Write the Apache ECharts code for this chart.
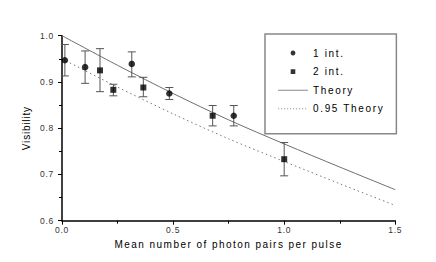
<!DOCTYPE html>
<html>
<head>
<meta charset="utf-8">
<script src="https://cdn.jsdelivr.net/npm/echarts@6/dist/echarts.min.js"></script>
<style>
html, body { margin: 0; padding: 0; background: #fff; }
#chart { width: 436px; height: 262px; }
</style>
</head>
<body>
<div id="chart"></div>
<script>
// ---- data ----
const int1X  = [0.013, 0.104, 0.314, 0.483, 0.773];
const int1Y  = [0.947, 0.932, 0.939, 0.875, 0.827];
const int1Lo = [0.913, 0.897, 0.911, 0.862, 0.805];
const int1Hi = [0.981, 0.967, 0.965, 0.888, 0.849];

const int2X  = [0.171, 0.231, 0.366, 0.678, 1.000];
const int2Y  = [0.925, 0.883, 0.888, 0.827, 0.733];
const int2Lo = [0.879, 0.870, 0.868, 0.805, 0.697];
const int2Hi = [0.972, 0.895, 0.910, 0.849, 0.769];

const theoryX   = [0, 0.25, 0.5, 0.75, 1.0, 1.25, 1.5];
const theoryY   = [1.000, 0.936, 0.875, 0.818, 0.766, 0.716, 0.667];
const theory95Y = [0.950, 0.889, 0.831, 0.777, 0.728, 0.680, 0.633];

const xTickValues = [0.0, 0.5, 1.0, 1.5];
const yTickValues = [0.6, 0.7, 0.8, 0.9, 1.0];

const seriesNames = ['1 int.', '2 int.', 'Theory', '0.95 Theory'];
const xTitle = 'Mean number of photon pairs per pulse';
const yTitle = 'Visibility';

// ---- build ----
const zip = (a, b) => a.map((v, i) => [v, b[i]]);
const zip3 = (a, b, c) => a.map((v, i) => [v, b[i], c[i]]);

function errRender(params, api) {
  const x = api.value(0);
  const lo = api.coord([x, api.value(1)]);
  const hi = api.coord([x, api.value(2)]);
  const w = 4;
  const st = { stroke: '#555', lineWidth: 1 };
  return {
    type: 'group',
    children: [
      { type: 'line', shape: { x1: lo[0], y1: lo[1], x2: hi[0], y2: hi[1] }, style: st },
      { type: 'line', shape: { x1: lo[0] - w, y1: lo[1], x2: lo[0] + w, y2: lo[1] }, style: st },
      { type: 'line', shape: { x1: hi[0] - w, y1: hi[1], x2: hi[0] + w, y2: hi[1] }, style: st }
    ]
  };
}

// legend icons (30x10 box, keep aspect)
const corners = 'M0,0h0.01v0.01h-0.01zM29.99,9.99h0.01v0.01h-0.01z';
const iconCircle = 'path://' + corners + 'M15,2.6a2.4,2.4 0 1,0 0.001,0z';
const iconSquare = 'path://' + corners + 'M12.7,2.7h4.6v4.6h-4.6z';
const iconSolid  = 'path://' + corners + 'M0,4.5h30v1h-30z';
let dots = '';
for (let i = 0; i < 30; i += 3) dots += 'M' + i + ',4.5h1.2v1h-1.2z';
const iconDotted = 'path://' + corners + dots;

const FONT = 'Liberation Sans, Arial, sans-serif';

const chart = echarts.init(document.getElementById('chart'), null, { renderer: 'svg' });
chart.setOption({
  animation: false,
  backgroundColor: '#fff',
  grid: { left: 62, right: 40.7, top: 35.7, bottom: 41.3 },
  xAxis: {
    type: 'value', min: 0, max: 1.5, interval: 0.5,
    name: xTitle, nameLocation: 'middle', nameGap: 18,
    nameTextStyle: { fontFamily: FONT, fontSize: 10, color: '#000' },
    axisLine: { show: true, onZero: false, lineStyle: { color: '#000', width: 1.5 } },
    axisTick: { show: true, length: 4, lineStyle: { color: '#000', width: 1 } },
    minorTick: { show: true, splitNumber: 2, length: 3, lineStyle: { color: '#000', width: 1 } },
    splitLine: { show: false },
    axisLabel: { margin: 5, fontFamily: FONT, fontSize: 8.5, color: '#333',
      formatter: v => v.toFixed(1) }
  },
  yAxis: {
    type: 'value', min: 0.6, max: 1.0, interval: 0.1,
    name: yTitle, nameLocation: 'middle', nameGap: 23,
    nameTextStyle: { fontFamily: FONT, fontSize: 10, color: '#000' },
    axisLine: { show: true, onZero: false, lineStyle: { color: '#000', width: 1.5 } },
    axisTick: { show: true, length: 4, lineStyle: { color: '#000', width: 1 } },
    minorTick: { show: true, splitNumber: 2, length: 3, lineStyle: { color: '#000', width: 1 } },
    splitLine: { show: false },
    axisLabel: { margin: 8, fontFamily: FONT, fontSize: 8.5, color: '#333',
      formatter: v => v.toFixed(1) }
  },
  legend: {
    orient: 'vertical', left: 265, top: 34,
    padding: [13, 30, 19, 13],
    itemWidth: 30, itemHeight: 10, itemGap: 6.6,
    borderColor: '#888', borderWidth: 1.5,
    textStyle: { fontFamily: FONT, fontSize: 10, color: '#000', lineHeight: 12 },
    data: [
      { name: seriesNames[0], icon: iconCircle, itemStyle: { color: '#000' } },
      { name: seriesNames[1], icon: iconSquare, itemStyle: { color: '#000' } },
      { name: seriesNames[2], icon: iconSolid, itemStyle: { color: '#8a8a8a' } },
      { name: seriesNames[3], icon: iconDotted, itemStyle: { color: '#999' } }
    ]
  },
  series: [
    { type: 'line', name: seriesNames[2], data: zip(theoryX, theoryY), showSymbol: false, symbol: 'none',
      smooth: 0.3, lineStyle: { color: '#6e6e6e', width: 1 }, itemStyle: { color: '#6e6e6e' }, z: 1 },
    { type: 'line', name: seriesNames[3], data: zip(theoryX, theory95Y), showSymbol: false, symbol: 'none',
      smooth: 0.3, lineStyle: { color: '#777', width: 1, type: [1.5, 3] }, itemStyle: { color: '#777' }, z: 1 },
    { type: 'custom', name: 'err1', renderItem: errRender, data: zip3(int1X, int1Lo, int1Hi), z: 2, silent: true },
    { type: 'custom', name: 'err2', renderItem: errRender, data: zip3(int2X, int2Lo, int2Hi), z: 2, silent: true },
    { type: 'scatter', name: seriesNames[0], data: zip(int1X, int1Y), symbol: 'circle', symbolSize: 6.5,
      itemStyle: { color: '#000' }, z: 3 },
    { type: 'scatter', name: seriesNames[1], data: zip(int2X, int2Y), symbol: 'rect', symbolSize: 6,
      itemStyle: { color: '#000' }, z: 3 }
  ]
});

// letter spacing (tracking) as in the reference typography
function track() {
  document.querySelectorAll('#chart svg text').forEach(t => {
    const s = t.textContent;
    let ls = '0.75px';
    if (s === xTitle) ls = '1.45px';
    else if (s === yTitle) ls = '0.8px';
    else if (seriesNames.includes(s)) ls = '1.65px';
    t.style.letterSpacing = ls;
  });
}
track();
chart.on('finished', track);
</script>
</body>
</html>
